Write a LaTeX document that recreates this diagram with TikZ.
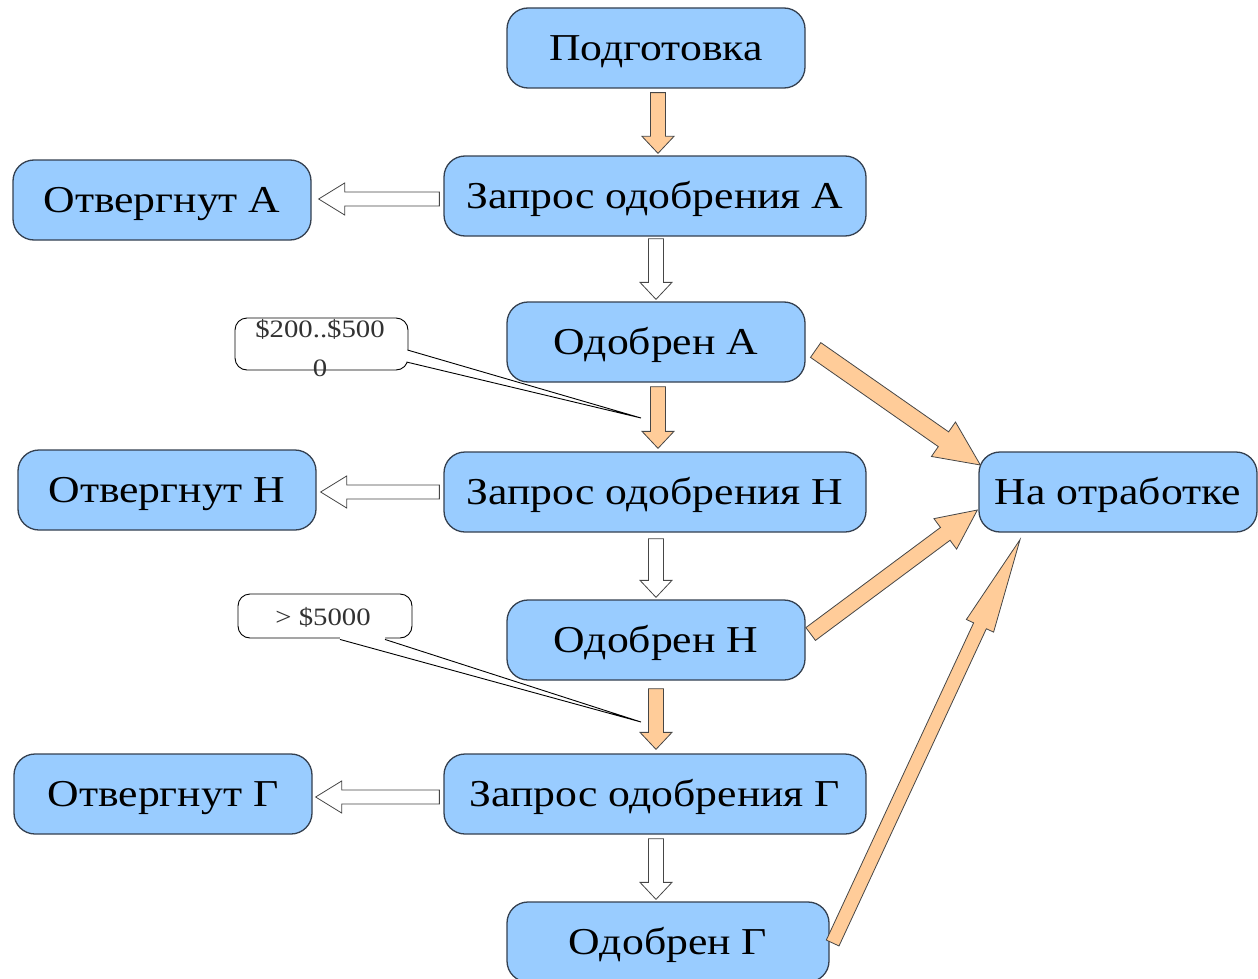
\documentclass[tikz,border=0pt]{standalone}
\usepackage{fontspec}
\setmainfont{Liberation Serif}[FakeStretch=1.15]
\usetikzlibrary{calc}
\definecolor{nodeblue}{RGB}{153,204,255}
\definecolor{nodeline}{RGB}{52,64,80}
\definecolor{arrorange}{RGB}{255,204,153}
\definecolor{arrline}{RGB}{70,70,70}
\definecolor{calltext}{RGB}{50,50,50}
\tikzset{
  state/.style={draw=nodeline, line width=1.3pt, fill=nodeblue, rounded corners=21pt,
    minimum height=80pt, inner sep=0pt, font=\fontsize{38}{44}\selectfont,
    text height=25pt, text depth=0pt},
  narrow/.style={state, minimum width=298pt},
  wide/.style={state, minimum width=422pt},
  orangearr/.style={draw=arrline, fill=arrorange, line width=0.8pt, line join=miter},
  whitearr/.style={draw=arrline, fill=white, line width=0.8pt, line join=miter},
  callbox/.style={draw=black, fill=white, line width=0.9pt, rounded corners=12pt, inner sep=0pt},
  calltxt/.style={text=calltext, font=\fontsize{25}{39}\selectfont, align=center, inner sep=0pt},
}
% style, start, tip, shaft half width, head half width, head length
\newcommand\blockarr[6]{%
  \coordinate (ba-s) at #2;
  \coordinate (ba-t) at #3;
  \coordinate (ba-c) at ($(ba-t)!#6!(ba-s)$);
  \draw[#1] ($(ba-s)!#4!90:(ba-t)$) -- ($(ba-c)!#4!90:(ba-t)$) -- ($(ba-c)!#5!90:(ba-t)$)
    -- (ba-t) -- ($(ba-c)!#5!-90:(ba-t)$) -- ($(ba-c)!#4!-90:(ba-t)$)
    -- ($(ba-s)!#4!-90:(ba-t)$) -- cycle;
}
\begin{document}
\begin{tikzpicture}[x=1pt, y=-1pt]
\useasboundingbox (0,0) rectangle (1258,979);

\node[narrow] (prep) at (656,48) {Подготовка};
\node[wide] (qA) at (655,196) {Запрос одобрения А};
\node[narrow] (rA) at (162,200) {Отвергнут А};
\node[narrow] (aA) at (656,342) {Одобрен А};
\node[narrow] (rN) at (167,490) {Отвергнут Н};
\node[wide] (qN) at (655,492) {Запрос одобрения Н};
\node[narrow] (aN) at (656,640) {Одобрен Н};
\node[narrow] (rG) at (163,794) {Отвергнут Г};
\node[wide] (qG) at (655,794) {Запрос одобрения Г};
\node[state, minimum width=322pt] (aG) at (668,942) {Одобрен Г};
\node[state, minimum width=278pt] (rw) at (1118,492) {На отработке};

% vertical arrows
\blockarr{orangearr}{($(prep.south)+(2,4)$)}{($(qA.north)+(3,-2)$)}{7.5pt}{16pt}{17pt}
\blockarr{whitearr}{($(qA.south)+(1,2)$)}{($(aA.north)+(0,-2)$)}{7.5pt}{16pt}{17pt}
\blockarr{orangearr}{($(aA.south)+(2,4)$)}{($(qN.north)+(3,-3)$)}{7.5pt}{16pt}{17pt}
\blockarr{whitearr}{($(qN.south)+(1,6)$)}{($(aN.north)+(0,-2)$)}{7.5pt}{16pt}{17pt}
\blockarr{orangearr}{($(aN.south)+(0,8)$)}{($(qG.north)+(1,-4)$)}{7.5pt}{16pt}{17pt}
\blockarr{whitearr}{($(qG.south)+(1,4)$)}{($(aG.north)+(-12,-2)$)}{7.5pt}{16pt}{17pt}

% horizontal arrows
\blockarr{whitearr}{($(qA.west)+(-4,3)$)}{($(rA.east)+(7,-1)$)}{7pt}{16pt}{26pt}
\blockarr{whitearr}{($(qN.west)+(-4,0)$)}{($(rN.east)+(4,2)$)}{7pt}{16pt}{26pt}
\blockarr{whitearr}{($(qG.west)+(-4,3)$)}{($(rG.east)+(3,3)$)}{7pt}{16pt}{26pt}

% diagonal arrows
\blockarr{orangearr}{($(aA.east)+(10,8)$)}{($(rw.west)+(2,-27)$)}{9pt}{21pt}{45pt}
\blockarr{orangearr}{($(aN.east)+(5,-6)$)}{($(rw.west)+(-1,18)$)}{8pt}{19pt}{40pt}
\blockarr{orangearr}{($(aG.east)+(3,1)$)}{($(rw.south)+(-98,7)$)}{7pt}{15pt}{95pt}

% callout 1
\node[callbox, minimum width=173pt, minimum height=52pt] (c1) at (321.5,344) {};
\coordinate (c1tip) at (641,418);
\coordinate (c1b1) at ($(c1.east)+(-1,6)$);
\coordinate (c1b2) at ($(c1.east)+(-2,18)$);
\fill[white] ($(c1b1)+(-4,0)$) -- (c1b1) -- (c1tip) -- (c1b2) -- ($(c1b2)+(-4,0)$) -- cycle;
\draw[line width=0.9pt] (c1b1) -- (c1tip) -- (c1b2);
\node[calltxt] (c1t) at (320,348) {\$200..\$500\\0};

% callout 2
\node[callbox, minimum width=174pt, minimum height=44pt] (c2) at (325,616) {};
\coordinate (c2tip) at (641,722);
\coordinate (c2b1) at ($(c2.south)+(15,1)$);
\coordinate (c2b2) at ($(c2.south)+(60,1)$);
\fill[white] ($(c2b1)+(0,-4)$) -- (c2b1) -- (c2tip) -- (c2b2) -- ($(c2b2)+(0,-4)$) -- cycle;
\draw[line width=0.9pt] (c2b1) -- (c2tip) -- (c2b2);
\node[calltxt] (c2t) at (323,617) {> \$5000};
\end{tikzpicture}
\end{document}
